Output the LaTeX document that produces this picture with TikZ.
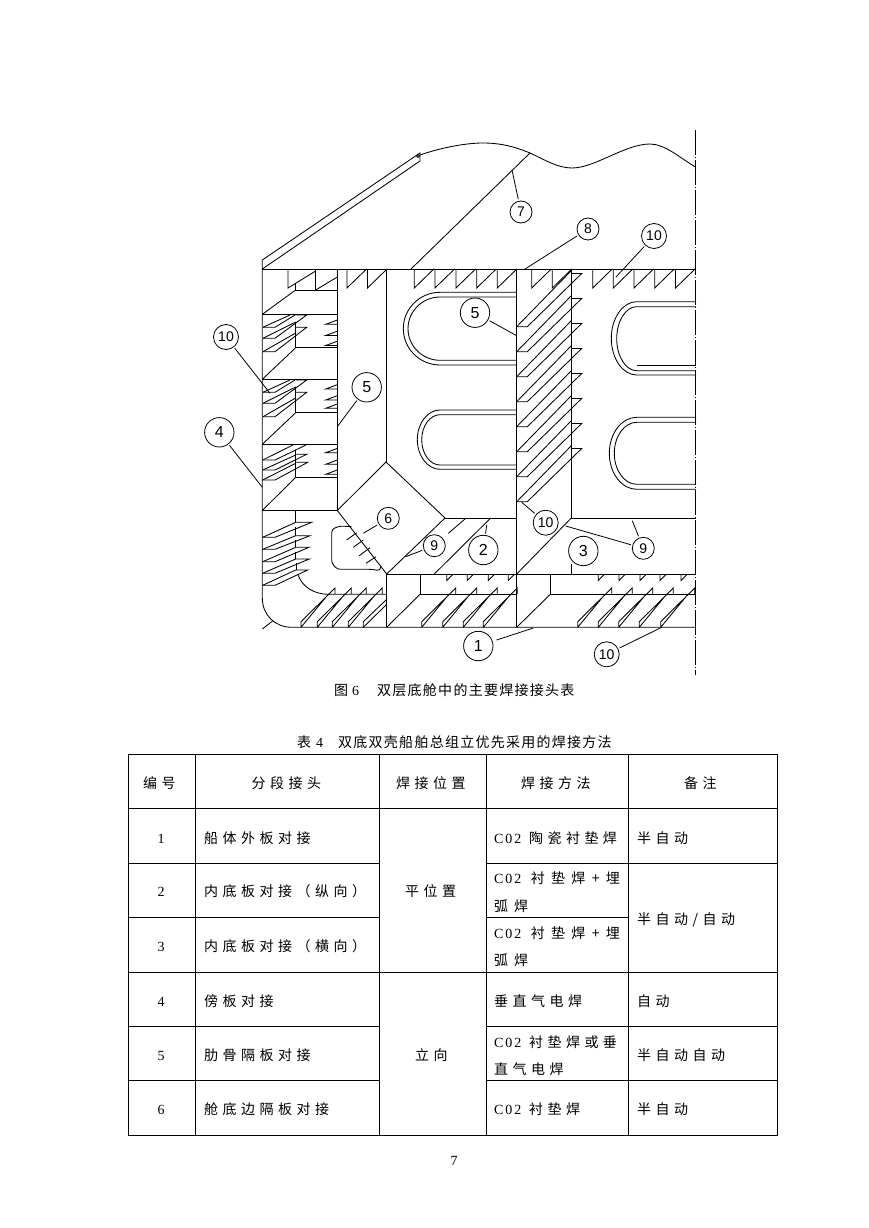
\documentclass[tikz,border=0pt]{standalone}
\usepackage{fontspec}
\setmainfont{Liberation Serif}
\newfontfamily\cjkA[LetterSpace=32]{Noto Sans CJK SC}
\newfontfamily\cjkB[LetterSpace=45]{Noto Sans CJK SC}
\newfontfamily\cjkC[LetterSpace=43]{Noto Sans CJK SC}
\newfontfamily\cjkD[LetterSpace=9]{Noto Sans CJK SC}
\newfontfamily\serA[LetterSpace=14]{Liberation Serif}
\newfontfamily\numf{Liberation Sans}
\newcommand\fs[1]{\fontsize{#1}{#1}\selectfont}
% stiffener rising from the bottom shell
\newcommand\stfB[1]{\draw[ln] (#1,627.3)--(#1,621.7)--({#1+34},588)--({#1+34},594) (#1,627.3)--({#1+27.5},594);}
% sawtooth below the inner bottom
\newcommand\tooth[1]{\draw[ln] (#1,269)--(#1,288)--({#1+19.5},269);}
\newcommand\tick[1]{\draw[ln] (#1,574)--(#1,580.5)--({#1+6},574.5);}
% U-shaped cut-out: left, straight start, top, bottom
\newcommand\holeU[4]{\draw[ln] (696,#3)--(#2,#3) .. controls ({#2-0.55*(#2-#1)},#3) and (#1,{(#3+#4)/2-0.55*(#4-#3)/2}) .. (#1,{(#3+#4)/2}) .. controls (#1,{(#3+#4)/2+0.55*(#4-#3)/2}) and ({#2-0.55*(#2-#1)},#4) .. (#2,#4)--(696,#4);}
\tikzset{
 ln/.style={line width=0.85pt,black},
 tb/.style={line width=1.2pt,black},
 lead/.style={line width=0.8pt,black,shorten <=1.5pt},
 balbig/.style={draw,circle,line width=0.8pt,minimum size=29.4pt,inner sep=0pt,font=\numf\fs{16}},
 balsmall/.style={draw,circle,line width=0.8pt,minimum size=22pt,inner sep=0pt,font=\numf\fs{14}},
 balmid/.style={draw,circle,line width=0.8pt,minimum size=25pt,inner sep=0pt,font=\numf\fs{14}},
 ta/.style={anchor=base west,inner sep=0pt,font=\cjkA\fs{14}},
 tbb/.style={anchor=base west,inner sep=0pt,font=\cjkB\fs{14}},
 tc/.style={anchor=base west,inner sep=0pt,font=\cjkC\fs{14}},
 captx/.style={anchor=base west,inner sep=0pt,font=\cjkD\fs{14}},
 dg/.style={anchor=base,inner sep=0pt,font=\rmfamily\fs{14}},
}
\begin{document}
\begin{tikzpicture}[x=1pt,y=-1pt]
\useasboundingbox (0,0) rectangle (869,1228);
% --- hull outline
\draw[ln] (262.3,269)--(262.3,260)--(420,153)--(420,161)--(262.3,269);
\draw[ln] (418,156) circle (1.5pt);
\draw[ln] (420,155) .. controls (440,148) and (465,143) .. (483,143) .. controls (505,143) and (520,149) .. (530,153) .. controls (545,160) and (558,168) .. (572,168) .. controls (595,168) and (625,144) .. (650,144) .. controls (665,144) and (680,158) .. (695.5,167);
\draw[ln] (411,269)--(530,153);
\draw[ln] (262.3,269)--(695.5,269);
\draw[ln] (262.3,269)--(262.3,598) .. controls (262.3,615) and (275,627.3) .. (292,627.3)--(695.5,627.3);
\draw[ln] (262.3,629)--(273,620.7);
\draw[line width=0.9pt,dash pattern=on 25pt off 2pt on 1pt off 2pt] (695.5,130)--(695.5,675);
% --- girders
\draw[ln] (337.3,269)--(337.3,510);
\draw[ln] (386,269)--(386,462);
\draw[ln] (516.7,269)--(516.7,627.3);
\draw[ln] (571.3,269)--(571.3,518)--(695.5,518);
\draw[ln] (571.3,518)--(516.7,574);
\draw[ln] (571.3,564)--(571.3,574);
\draw[ln] (386,462)--(337.3,510.5)--(386.7,574)--(445,518)--cycle;
\draw[ln] (445,518)--(516.7,518);
\draw[ln] (386.7,574)--(695.5,574);
\draw[ln] (386.7,574)--(386.7,627.3);
\draw[ln] (420,574)--(420,594.3)--(516.7,594.3);
\draw[ln] (420,594.3)--(386.7,627.3);
\draw[ln] (550.3,574)--(550.3,594.3)--(695.5,594.3);
\draw[ln] (550.3,594.3)--(516.7,627.3);
\draw[ln] (434.3,574)--(490.7,518);
\draw[ln] (448.3,533.3)--(465,519);
% --- compartments on the left
\draw[ln] (262.3,314.3)--(337.3,314.3);
\draw[ln] (262.3,379.3)--(337.3,379.3);
\draw[ln] (262.3,444.3)--(337.3,444.3);
\draw[ln] (262.3,510.5)--(337.3,510.5);
\draw[ln] (295.7,283)--(295.7,290)--(337.3,290);
\draw[ln] (295.7,290)--(262.3,314.3);
\draw[ln] (295.7,347.7)--(337.3,347.7);
\draw[ln] (295.7,347.7)--(262.3,379.3);
\draw[ln] (295.7,412.7)--(337.3,412.7);
\draw[ln] (295.7,412.7)--(262.3,444.3);
\draw[ln] (295.7,477.3)--(337.3,477.3);
\draw[ln] (295.7,477.3)--(262.3,510.5);
\draw[ln] (288,269)--(288,288)--(315.7,271);
\draw[ln] (315.7,269)--(315.7,290);
\draw[ln] (315.7,290)--(337.3,277);
\foreach \d in {0,65}{
\begin{scope}[shift={(0,\d)}]
 \draw[ln] (263,327.3)--(290,315);
 \draw[ln] (263,327.3)--(275,327.3)--(295,315);
 \draw[ln] (263,338.3)--(275,338.3)--(306.7,315)--(295.7,315);
 \draw[ln] (263,338.3)--(295.7,322);
 \draw[ln] (263,351.7)--(275,351.7)--(306.7,327.3)--(295.7,327.3);
 \draw[ln] (263,351.7)--(295.7,333);
 \draw[ln] (295.7,322)--(295.7,347.7);
\end{scope}}
\draw[ln] (262.7,460)--(293,445);
\draw[ln] (262.7,460)--(275,460)--(306,445);
\draw[ln] (262.7,470)--(295.7,455);
\draw[ln] (262.7,470)--(275,470)--(306.7,454.3)--(295.7,454.3);
\draw[ln] (262.7,480)--(295.7,463.3);
\draw[ln] (262.7,480)--(275,480)--(307.7,462.3)--(295.7,462.3);
\draw[ln] (295.7,450)--(295.7,477.3);
\foreach \y in {324.3,335.5,345.5,389,400,408.3,452.7,464.3,474.3}{
 \draw[ln] (337.3,{\y-4.3})--(325.7,\y)--(337.3,\y);
}
% --- bilge compartment stiffeners
\draw[ln] (295.7,510.5)--(295.7,522.3);
\foreach \b/\t/\tx in {537.3/522.3/311.7,549.3/535.7/310,561.7/547.3/309,573.3/559/309.3,585.3/570/307.7}{
 \draw[ln] (262.7,\b)--(295.7,\t);
 \draw[ln] (262.7,\b)--(275,\b)--(\tx,\t)--(295.7,\t);
}
\draw[ln] (295.7,527)--(295.7,535.7) (295.7,540)--(295.7,547.3) (295.7,552)--(295.7,559) (296.5,563)--(296.5,570);
\draw[ln] (298,575) .. controls (303,588) and (315,594) .. (328,594.3)--(386.7,594.3);
\draw[ln,rounded corners=3pt] (351.7,526.7)--(340,526)--(331.7,529.3)--(331.7,563.3)--(337.3,569.3)--(371.7,569.3)--(380,570.7)--(381,565.7);
\draw[ln] (346.7,540)--(356.7,532.7) (353.3,547.3)--(363.3,540) (359.3,555.7)--(370,547.7) (366,563.3)--(376,556.7);
% --- bottom stiffeners
\foreach \x in {301,317.3,332.3,348.3,421.7,442.7,463.3,483.3,577.7,598.3,618.7,639.3,660.7}{\stfB{\x}}
\draw[ln] (363.3,627.3)--(363.3,621.7)--(386,600) (363.3,627.3)--(386,605);
\foreach \x in {446.7,467.3,488.3,508.3,598.3,619,640,660,681}{\tick{\x}}
% --- top teeth
\foreach \x in {347,367.5,414.3,435,456,476.7,497.3,531.7,552.3,592.7,613.3,634,654.7,675.5}{\tooth{\x}}
% --- stiffeners on the girder
\foreach \k in {0,...,7}{
\begin{scope}[shift={(0,25*\k)}]
 \draw[ln] (516.7,326.7)--(571.3,270.7);
 \draw[ln] (516.7,326.7)--(527.3,326.7)--(581.7,273.5)--(571.3,273.5);
\end{scope}}
% --- cut-outs
\begin{scope}
\clip (380,280) rectangle (516.7,480);
\holeU{403.3}{440}{292.3}{365}
\holeU{408}{440}{297}{360.3}
\holeU{417.3}{440}{410}{469.3}
\holeU{421.7}{440}{414.7}{465}
\end{scope}
\holeU{611.3}{636.7}{301.7}{375}
\holeU{616.7}{636.7}{306.7}{370.7}
\draw[ln] (636.7,365.7)--(696,365.7);
\holeU{609.3}{636.7}{417.3}{489.3}
\holeU{614.3}{636.7}{422.3}{484.3}
% --- balloons
\node[balsmall] (n7) at (521,212) {7};
\node[balsmall] (n8) at (588,229) {8};
\node[balmid] (n10a) at (654,236) {10};
\node[balbig] (n5a) at (475,312.7) {5};
\node[balmid] (n10b) at (226,337) {10};
\node[balbig] (n5b) at (366.7,387.3) {5};
\node[balbig] (n4) at (219.3,432.3) {4};
\node[balsmall] (n6) at (388.3,518.3) {6};
\node[balsmall] (n9a) at (434.3,545.7) {9};
\node[balbig] (n2) at (483.3,550) {2};
\node[balbig] (n3) at (583.3,551) {3};
\node[balsmall] (n9b) at (643.3,548.3) {9};
\node[balmid] (n10c) at (545.7,522.7) {10};
\node[balbig] (n1) at (478.3,646) {1};
\node[balmid] (n10d) at (606.7,654.3) {10};
\coordinate (e7) at (512,170);
\coordinate (e8) at (525,269);
\coordinate (e10a) at (616,277);
\coordinate (e5a) at (516.7,335.7);
\coordinate (e10b) at (270,393.3);
\coordinate (e5b) at (337.3,426.7);
\coordinate (e4) at (262.3,487.3);
\coordinate (e6) at (363.3,533.3);
\coordinate (e9a) at (405.7,556.7);
\coordinate (e2) at (486.7,525);
\coordinate (e9b) at (565.7,526);
\coordinate (e9c) at (632.3,520.7);
\coordinate (e10c) at (521.7,502.3);
\coordinate (e1) at (533.3,628);
\coordinate (e10d) at (661.7,627.3);
\draw[lead] (n7)--(e7);
\draw[lead] (n8)--(e8);
\draw[lead] (n10a)--(e10a);
\draw[lead] (n5a)--(e5a);
\draw[lead] (n10b)--(e10b);
\draw[lead] (n5b)--(e5b);
\draw[lead] (n4)--(e4);
\draw[lead] (n6)--(e6);
\draw[lead] (n9a)--(e9a);
\draw[lead] (n2)--(e2);
\draw[lead] (n9b)--(e9b);
\draw[lead] (n9b)--(e9c);
\draw[lead] (n10c)--(e10c);
\draw[lead,shorten <=4pt] (n1)--(e1);
\draw[lead] (n10d)--(e10d);
% --- captions
\node[captx] (c1) at (334,695) {图};
\node[dg,anchor=base west] (c2) at (352,695) {6};
\node[captx] (c3) at (377,695) {双层底舱中的主要焊接接头表};
\node[captx] (c4) at (297,747) {表};
\node[dg,anchor=base west] (c5) at (316,747) {4};
\node[captx] (c6) at (338,747) {双底双壳船舶总组立优先采用的焊接方法};
% --- table
\draw[tb] (128.3,754.3) rectangle (777.3,1135.3);
\draw[tb] (128.3,808.3)--(777.3,808.3);
\draw[tb] (128.3,863.3)--(379.3,863.3);
\draw[tb] (486.7,863.3)--(777.3,863.3);
\draw[tb] (128.3,917.3)--(379.3,917.3);
\draw[tb] (486.7,917.3)--(628.3,917.3);
\draw[tb] (128.3,972.5)--(777.3,972.5);
\draw[tb] (128.3,1026.7)--(379.3,1026.7);
\draw[tb] (486.7,1026.7)--(777.3,1026.7);
\draw[tb] (128.3,1080.7)--(379.3,1080.7);
\draw[tb] (486.7,1080.7)--(777.3,1080.7);
\draw[tb] (195.3,754.3)--(195.3,1135.3);
\draw[tb] (379.3,754.3)--(379.3,1135.3);
\draw[tb] (486.7,754.3)--(486.7,1135.3);
\draw[tb] (628.3,754.3)--(628.3,1135.3);
% header
\node[ta] (h1) at (143,788) {编号};
\node[ta] (h2) at (251.5,788) {分段接头};
\node[ta] (h3) at (396,788) {焊接位置};
\node[ta] (h4) at (521,788) {焊接方法};
\node[ta] (h5) at (684,788) {备注};
% numbers
\node[dg] (r1) at (161,843) {1};
\node[dg] (r2) at (161,896) {2};
\node[dg] (r3) at (161,951) {3};
\node[dg] (r4) at (161,1006) {4};
\node[dg] (r5) at (161,1060) {5};
\node[dg] (r6) at (161,1114) {6};
% column 2
\node[ta] (a1) at (204,843) {船体外板对接};
\node[ta] (a2) at (204,896) {内底板对接（纵向）};
\node[ta] (a3) at (204,951) {内底板对接（横向）};
\node[ta] (a4) at (204,1006) {傍板对接};
\node[ta] (a5) at (204,1060) {肋骨隔板对接};
\node[ta] (a6) at (204,1114) {舱底边隔板对接};
% column 3
\node[ta] (b1) at (405,896) {平位置};
\node[ta] (b2) at (415,1060) {立向};
% column 4
\node[ta] (m1) at (494,843) {{\serA C02} 陶瓷衬垫焊};
\node[tbb] (m2) at (494,883) {{\serA C02} 衬垫焊+埋};
\node[tc] (m3) at (494,911) {弧焊};
\node[tbb] (m4) at (494,938) {{\serA C02} 衬垫焊+埋};
\node[tc] (m5) at (494,965) {弧焊};
\node[ta] (m6) at (494,1006) {垂直气电焊};
\node[ta] (m7) at (494,1047) {{\serA C02} 衬垫焊或垂};
\node[ta] (m8) at (494,1074) {直气电焊};
\node[ta] (m9) at (494,1114) {{\serA C02} 衬垫焊};
% column 5
\node[ta] (k1) at (637,843) {半自动};
\node[ta] (k2) at (637,924) {半自动/自动};
\node[ta] (k3) at (637,1006) {自动};
\node[ta] (k4) at (637,1060) {半自动自动};
\node[ta] (k5) at (637,1114) {半自动};
\node[dg] (pg) at (454,1165) {7};
\end{tikzpicture}
\end{document}
